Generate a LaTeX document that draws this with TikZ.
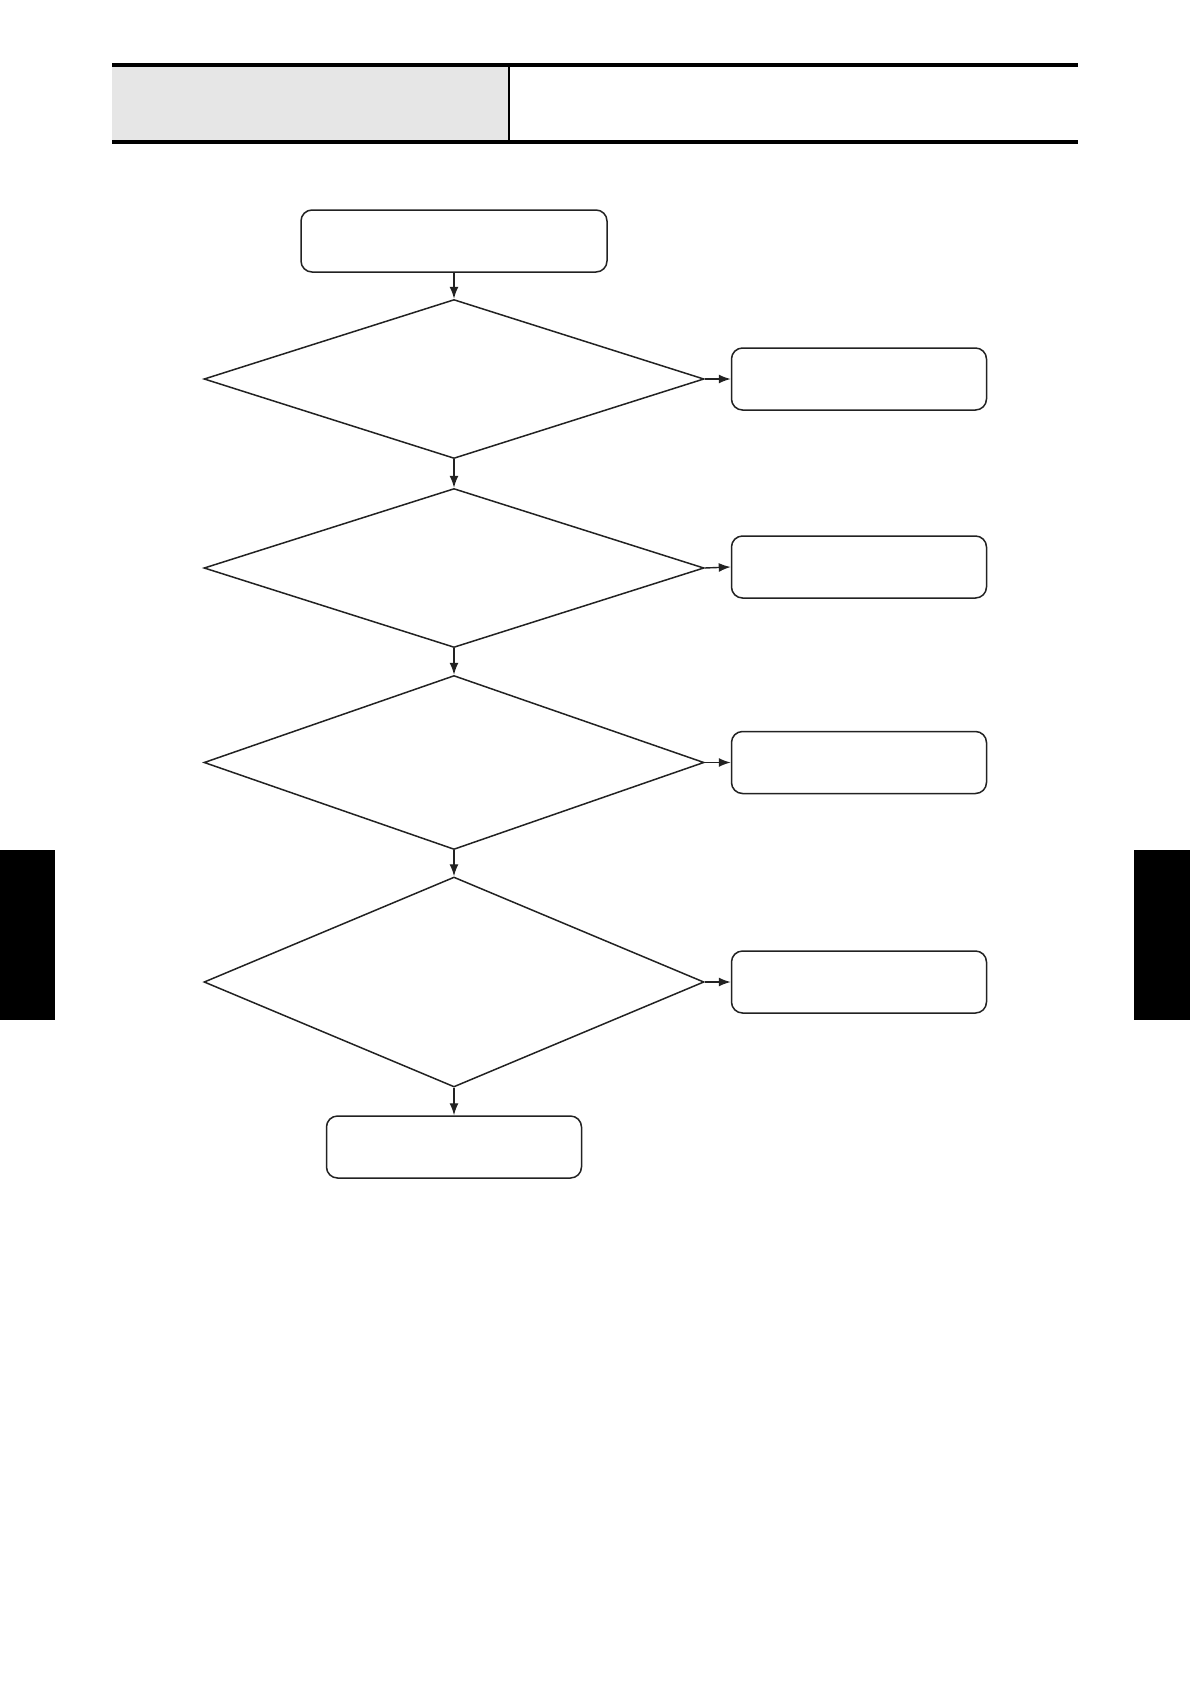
\documentclass[tikz,border=0pt]{standalone}
\usetikzlibrary{shapes.geometric,arrows.meta}
\definecolor{ln}{HTML}{222222}
\definecolor{hdr}{HTML}{E6E6E6}
\tikzset{
  box/.style={draw=ln, line width=1.5pt, rounded corners=11pt, inner sep=0pt, fill=white},
  dec/.style={draw=ln, line width=1.5pt, diamond, inner sep=0pt, fill=white},
  arr/.style={draw=ln, line width=1.4pt, -{Latex[length=12pt,width=9pt]}},
  tab/.style={fill=black, draw=none},
}
\begin{document}
\begin{tikzpicture}[x=1pt,y=-1pt]
\useasboundingbox (0,0) rectangle (1190,1684);
% header
\fill[hdr] (112,66) rectangle (509,141);
\draw[black, line width=3.5pt] (112,65) -- (1078,65);
\draw[black, line width=3.5pt] (112,142) -- (1078,142);
\draw[black, line width=1.5pt] (509,66) -- (509,141);
% side tabs
\fill[tab] (0,850) rectangle (55,1020);
\fill[tab] (1134,850) rectangle (1190,1020);
% nodes
\node[box, minimum width=306pt, minimum height=62pt] (start) at (454,241) {};
\node[dec, minimum width=500pt, minimum height=159pt] (d1) at (454,379) {};
\node[dec, minimum width=500pt, minimum height=159pt] (d2) at (454,568) {};
\node[dec, minimum width=500pt, minimum height=174pt] (d3) at (454,762.5) {};
\node[dec, minimum width=500pt, minimum height=210pt] (d4) at (454,982) {};
\node[box, minimum width=255pt, minimum height=62pt] (r1) at (859,379) {};
\node[box, minimum width=255pt, minimum height=62pt] (r2) at (859,567) {};
\node[box, minimum width=255pt, minimum height=62pt] (r3) at (859,762.5) {};
\node[box, minimum width=255pt, minimum height=62pt] (r4) at (859,982) {};
\node[box, minimum width=255pt, minimum height=62pt] (end) at (454,1147) {};
% connectors
\draw[arr] (start.south) -- (d1.north);
\draw[arr] (d1.south) -- (d2.north);
\draw[arr] (d2.south) -- (d3.north);
\draw[arr] (d3.south) -- (d4.north);
\draw[arr] (d4.south) -- (end.north);
\draw[arr] (d1.east) -- (r1.west);
\draw[arr] (d2.east) -- (r2.west);
\draw[arr] (d3.east) -- (r3.west);
\draw[arr] (d4.east) -- (r4.west);
\end{tikzpicture}
\end{document}
